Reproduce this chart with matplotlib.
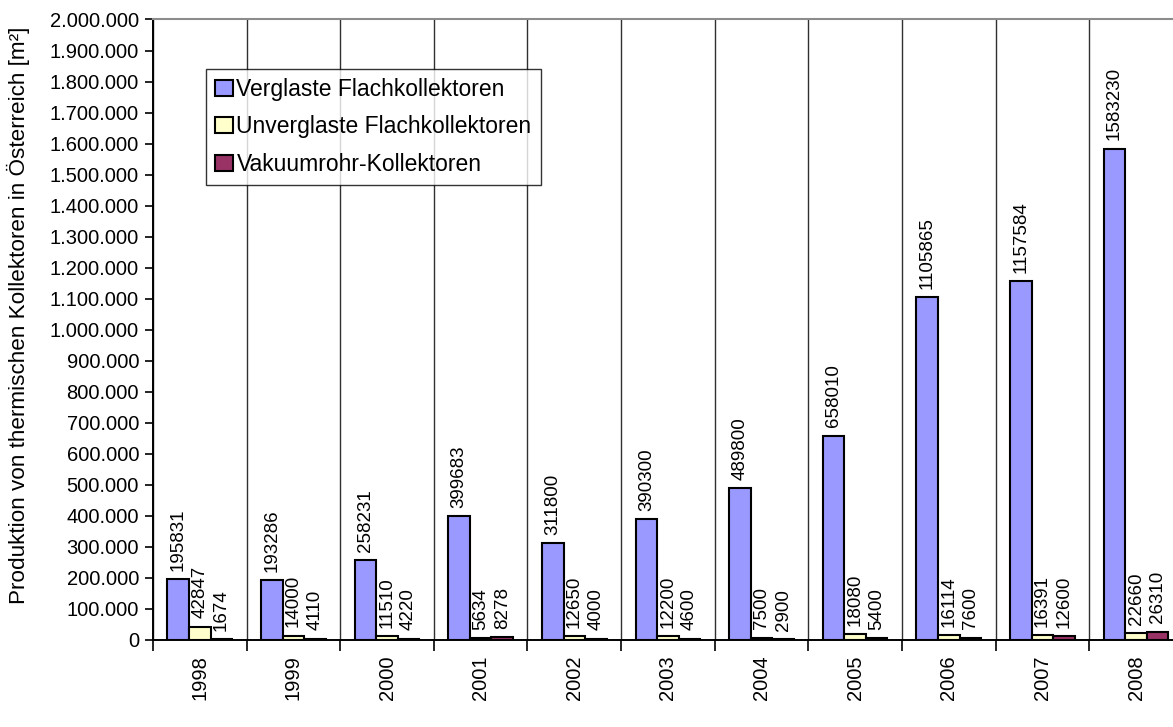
import matplotlib.pyplot as plt
import numpy as np
from matplotlib.ticker import FuncFormatter, FixedLocator

# data
years = ["1998", "1999", "2000", "2001", "2002", "2003", "2004", "2005", "2006", "2007", "2008"]
verglaste = [195831, 193286, 258231, 399683, 311800, 390300, 489800, 658010, 1105865, 1157584, 1583230]
unverglaste = [42847, 14000, 11510, 5634, 12650, 12200, 7500, 18080, 16114, 16391, 22660]
vakuum = [1674, 4110, 4220, 8278, 4000, 4600, 2900, 5400, 7600, 12600, 26310]

series = [
    ("Verglaste Flachkollektoren", verglaste, "#9999FF"),
    ("Unverglaste Flachkollektoren", unverglaste, "#FFFFCC"),
    ("Vakuumrohr-Kollektoren", vakuum, "#993366"),
]

plt.rcParams['font.family'] = ['Liberation Sans', 'DejaVu Sans']
fs = 14.5

fig = plt.figure(figsize=(11.73, 7.27), dpi=100)
# plot area runs a little past the right edge, as in the reference
ax = fig.add_axes([0.1304, 0.1197, 0.878, 0.8535])

x = np.arange(len(years))
w = 0.23
for i, (name, vals, col) in enumerate(series):
    bars = ax.bar(x + (i - 1) * w, vals, w, color=col, edgecolor="black",
                  linewidth=1.5, label=name, zorder=3)
    ax.bar_label(bars, labels=[str(v) for v in vals], rotation=90,
                 padding=6, fontsize=13.5)

ax.set_xlim(-0.5, len(years) - 0.5)
ax.set_ylim(0, 2000000)
ax.set_yticks(np.arange(0, 2000001, 100000))
ax.yaxis.set_major_formatter(FuncFormatter(lambda v, p: f"{int(v):,}".replace(",", ".")))
ax.tick_params(axis="y", direction="out", length=6, labelsize=fs, width=1.2, pad=4)

ax.set_xticks(x)
ax.set_xticklabels(years, rotation=90, fontsize=fs)
ax.tick_params(axis="x", which="major", length=0, pad=11)
ax.xaxis.set_minor_locator(FixedLocator(np.arange(-0.5, len(years), 1.0)))
ax.tick_params(axis="x", which="minor", length=8, width=1.2)
ax.grid(axis="x", which="minor", color="#303030", linewidth=1.0, zorder=0)

ax.spines["right"].set_visible(False)
ax.spines["top"].set_color("#8c8c8c")
ax.spines["top"].set_linewidth(1.5)
ax.spines["left"].set_linewidth(1.4)
ax.spines["bottom"].set_linewidth(1.4)

ax.set_ylabel("Produktion von thermischen Kollektoren in Österreich [m²]", fontsize=16.2)
ax.yaxis.set_label_coords(-0.119, 0.523)

leg = ax.legend(loc="upper left", bbox_to_anchor=(0.0515, 0.92), fontsize=16.5,
                frameon=True, fancybox=False, edgecolor="black",
                handlelength=0.8, handleheight=0.7, handletextpad=0.13,
                borderpad=0.4, labelspacing=0.62, borderaxespad=0)
leg.get_frame().set_linewidth(1.0)

fig.savefig("out.png", dpi=100)
